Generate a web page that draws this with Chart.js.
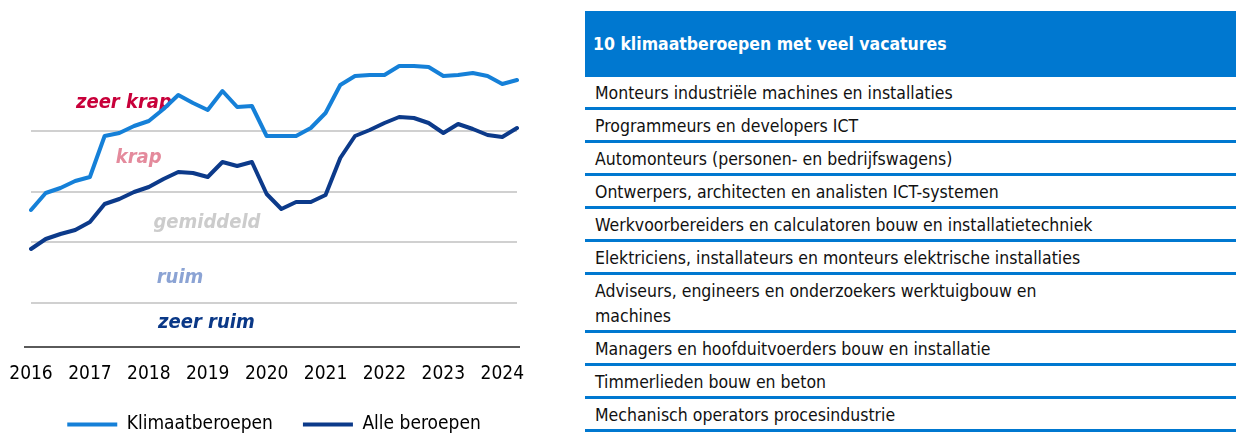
<!DOCTYPE html>
<html><head><meta charset="utf-8">
<script src="https://cdn.jsdelivr.net/npm/chart.js@4.4.1/dist/chart.umd.min.js"></script>
<style>
html,body{margin:0;padding:0;background:#fff;overflow:hidden;width:1236px;height:433px;}
#chartBox{position:absolute;left:0;top:0;width:540px;height:444px;}
#tableBox{position:absolute;left:585px;top:11px;width:651px;font-family:'DejaVu Sans Condensed','DejaVu Sans',sans-serif;font-stretch:condensed;color:#111;}
.hdr{height:66px;line-height:66px;background:#0078D0;color:#fff;font-weight:bold;font-size:17.5px;padding-left:8px;}
.row{padding:4px 0 1px 10px;line-height:25px;font-size:17.5px;border-bottom:3px solid #0078D0;white-space:pre-line;}
</style></head>
<body>
<div id="chartBox"><canvas id="c"></canvas></div>
<div id="tableBox"></div>
<script>
// ---- data ----
const quarters = [
  '2016 K1','2016 K2','2016 K3','2016 K4',
  '2017 K1','2017 K2','2017 K3','2017 K4',
  '2018 K1','2018 K2','2018 K3','2018 K4',
  '2019 K1','2019 K2','2019 K3','2019 K4',
  '2020 K1','2020 K2','2020 K3','2020 K4',
  '2021 K1','2021 K2','2021 K3','2021 K4',
  '2022 K1','2022 K2','2022 K3','2022 K4',
  '2023 K1','2023 K2','2023 K3','2023 K4',
  '2024 K1','2024 K2'
];
const yearTicks = ['2016','2017','2018','2019','2020','2021','2022','2023','2024'];
const klimaatberoepen = [
  13.7, 15.4, 15.9, 16.6, 17.0, 21.1, 21.4, 22.1, 22.6, 23.8,
  25.2, 24.4, 23.7, 25.6, 24.0, 24.1, 21.1, 21.1, 21.1, 21.9,
  23.4, 26.2, 27.1, 27.2, 27.2, 28.1, 28.1, 28.0, 27.1, 27.2,
  27.4, 27.1, 26.3, 26.7
];
const alleBeroepen = [
  9.8, 10.8, 11.3, 11.7, 12.5, 14.3, 14.8, 15.5, 16.0, 16.8,
  17.5, 17.4, 17.0, 18.5, 18.1, 18.5, 15.3, 13.8, 14.5, 14.5,
  15.2, 18.9, 21.1, 21.7, 22.4, 23.0, 22.9, 22.4, 21.4, 22.3,
  21.8, 21.2, 21.0, 21.9
];
const bandBoundaries = [4.4, 10.5, 15.5, 21.6];
const bandNames = ['zeer krap', 'krap', 'gemiddeld', 'ruim', 'zeer ruim'];
const seriesNames = ['Klimaatberoepen', 'Alle beroepen'];
const tableTitle = '10 klimaatberoepen met veel vacatures';
const occupations = [
  'Monteurs industriële machines en installaties',
  'Programmeurs en developers ICT',
  'Automonteurs (personen- en bedrijfswagens)',
  'Ontwerpers, architecten en analisten ICT-systemen',
  'Werkvoorbereiders en calculatoren bouw en installatietechniek',
  'Elektriciens, installateurs en monteurs elektrische installaties',
  'Adviseurs, engineers en onderzoekers werktuigbouw en\nmachines',
  'Managers en hoofduitvoerders bouw en installatie',
  'Timmerlieden bouw en beton',
  'Mechanisch operators procesindustrie'
];

// ---- table ----
const tb = document.getElementById('tableBox');
const h = document.createElement('div'); h.className = 'hdr'; h.textContent = tableTitle; tb.appendChild(h);
occupations.forEach(t => { const d = document.createElement('div'); d.className = 'row'; d.textContent = t; tb.appendChild(d); });

// ---- chart ----
const FAMILY = "'DejaVu Sans Condensed', 'DejaVu Sans', sans-serif";
const bandLabelStyle = [
  {color: '#C8003A', x: 6.31, y: 23.87},
  {color: '#E48A9C', x: 7.31, y: 18.37},
  {color: '#CCCCCC', x: 11.95, y: 11.87},
  {color: '#8BA3D4', x: 10.12, y: 6.43},
  {color: '#0A3887', x: 11.91, y: 1.87}
];
const bandLabelsPlugin = {
  id: 'bandLabels',
  beforeDatasetsDraw(chart) {
    const {ctx, scales: {x, y}, chartArea} = chart;
    ctx.save();
    // x axis base line, slightly wider than the plot area
    ctx.strokeStyle = '#5A5A5A';
    ctx.lineWidth = 2;
    ctx.beginPath();
    ctx.moveTo(chartArea.left - 7, y.getPixelForValue(0));
    ctx.lineTo(chartArea.right + 3, y.getPixelForValue(0));
    ctx.stroke();
    ctx.font = "italic bold 20px " + FAMILY;
    ctx.textAlign = 'center';
    ctx.textBaseline = 'alphabetic';
    bandNames.forEach((name, i) => {
      const s = bandLabelStyle[i];
      ctx.fillStyle = s.color;
      ctx.fillText(name, x.getPixelForValue(s.x), y.getPixelForValue(s.y));
    });
    ctx.restore();
  }
};

new Chart(document.getElementById('c'), {
  type: 'line',
  data: {
    labels: quarters,
    datasets: [
      {label: seriesNames[0], data: klimaatberoepen, borderColor: '#1580D8', backgroundColor: '#1580D8',
       borderWidth: 4, pointRadius: 0, tension: 0, borderJoinStyle: 'round', borderCapStyle: 'round'},
      {label: seriesNames[1], data: alleBeroepen, borderColor: '#0C3A8A', backgroundColor: '#0C3A8A',
       borderWidth: 4, pointRadius: 0, tension: 0, borderJoinStyle: 'round', borderCapStyle: 'round'}
    ]
  },
  options: {
    responsive: true,
    maintainAspectRatio: false,
    animation: false,
    layout: {padding: {left: 31, right: 23, top: 47, bottom: 0}},
    plugins: {
      tooltip: {enabled: false},
      legend: {
        position: 'bottom',
        labels: {
          usePointStyle: true, pointStyle: 'line', pointStyleWidth: 50,
          padding: 30, color: '#000',
          font: {family: FAMILY, size: 19}
        }
      }
    },
    scales: {
      x: {
        type: 'category',
        grid: {display: false},
        border: {display: false},
        ticks: {
          autoSkip: false, maxRotation: 0, minRotation: 0, padding: 8, color: '#000',
          font: {family: FAMILY, size: 19},
          callback: (v, i) => {
            const q = quarters[i];
            return q.endsWith('K1') ? yearTicks[yearTicks.indexOf(q.slice(0, 4))] : '';
          }
        },
        afterFit: (s) => { s.height = 38; }
      },
      y: {
        min: 0, max: 30,
        border: {display: false},
        ticks: {display: false},
        grid: {color: '#D0D0D0', lineWidth: 2, drawTicks: false},
        afterBuildTicks: (s) => { s.ticks = bandBoundaries.map(v => ({value: v})); }
      }
    }
  },
  plugins: [bandLabelsPlugin]
});
</script>
</body></html>
